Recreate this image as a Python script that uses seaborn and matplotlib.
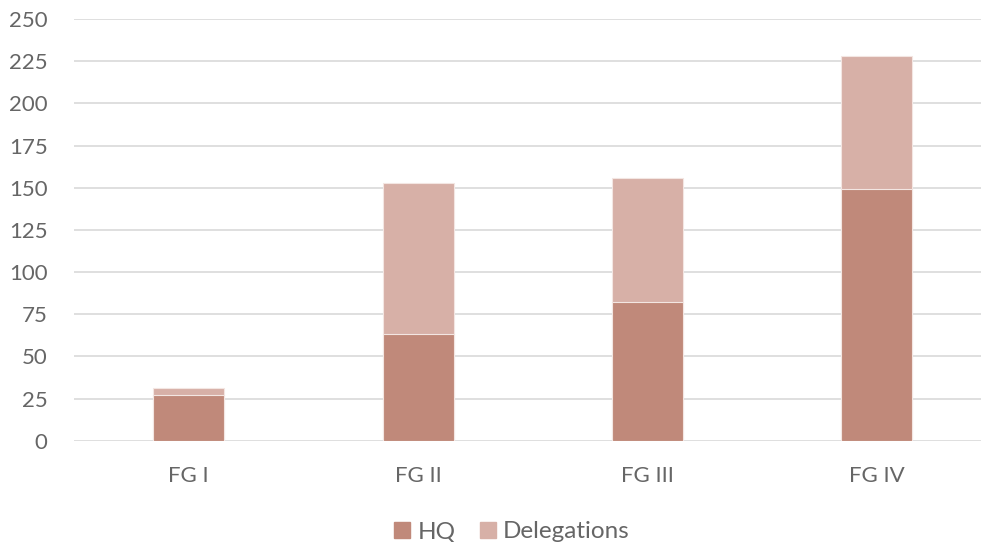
import numpy as np
import pandas as pd
import seaborn as sns
import matplotlib.pyplot as plt
from matplotlib.patches import Patch

# data
categories = ['FG I', 'FG II', 'FG III', 'FG IV']
hq = [27, 63, 82, 149]
delegations = [4, 90, 74, 79]

hq_color = '#C0897A'
del_color = '#D7B0A7'
text_color = '#666666'

sns.set_theme(style='white')
plt.rcParams['font.family'] = ['Lato', 'DejaVu Sans']

df = pd.DataFrame({'cat': categories, 'hq': hq, 'del': delegations})
df['total'] = df['hq'] + df['del']

fig = plt.figure(figsize=(9.81, 5.42), dpi=100)
ax = fig.add_axes([74 / 981, 1 - 440.7 / 542, (991.5 - 74) / 981, 421.7 / 542])

sns.barplot(data=df, x='cat', y='total', color=del_color, width=0.31,
            saturation=1, edgecolor='#F3E6E2', linewidth=0.8, ax=ax)
sns.barplot(data=df, x='cat', y='hq', color=hq_color, width=0.31,
            saturation=1, edgecolor='#F3E6E2', linewidth=0.8, ax=ax)

ax.set_ylim(0, 250)
ax.set_yticks(np.arange(0, 251, 25))
ax.set_xlim(-0.5, 3.5)
ax.grid(axis='y', color='#D9D9D9', linewidth=1.2)
ax.set_axisbelow(True)
for s in ax.spines.values():
    s.set_visible(False)
ax.set_xlabel('')
ax.set_ylabel('')
ax.tick_params(axis='y', length=0, pad=19, labelsize=16, labelcolor=text_color)
ax.tick_params(axis='x', length=0, pad=18, labelsize=16, labelcolor=text_color)

handles = [Patch(color=hq_color, label='HQ'), Patch(color=del_color, label='Delegations')]
fig.legend(handles=handles, loc='center', bbox_to_anchor=(512 / 981, 1 - 532 / 542),
           ncol=2, frameon=False, fontsize=17.5, labelcolor=text_color,
           handlelength=0.65, handleheight=0.65, handletextpad=0.3, columnspacing=1.0)

fig.savefig('out.png', dpi=100)
